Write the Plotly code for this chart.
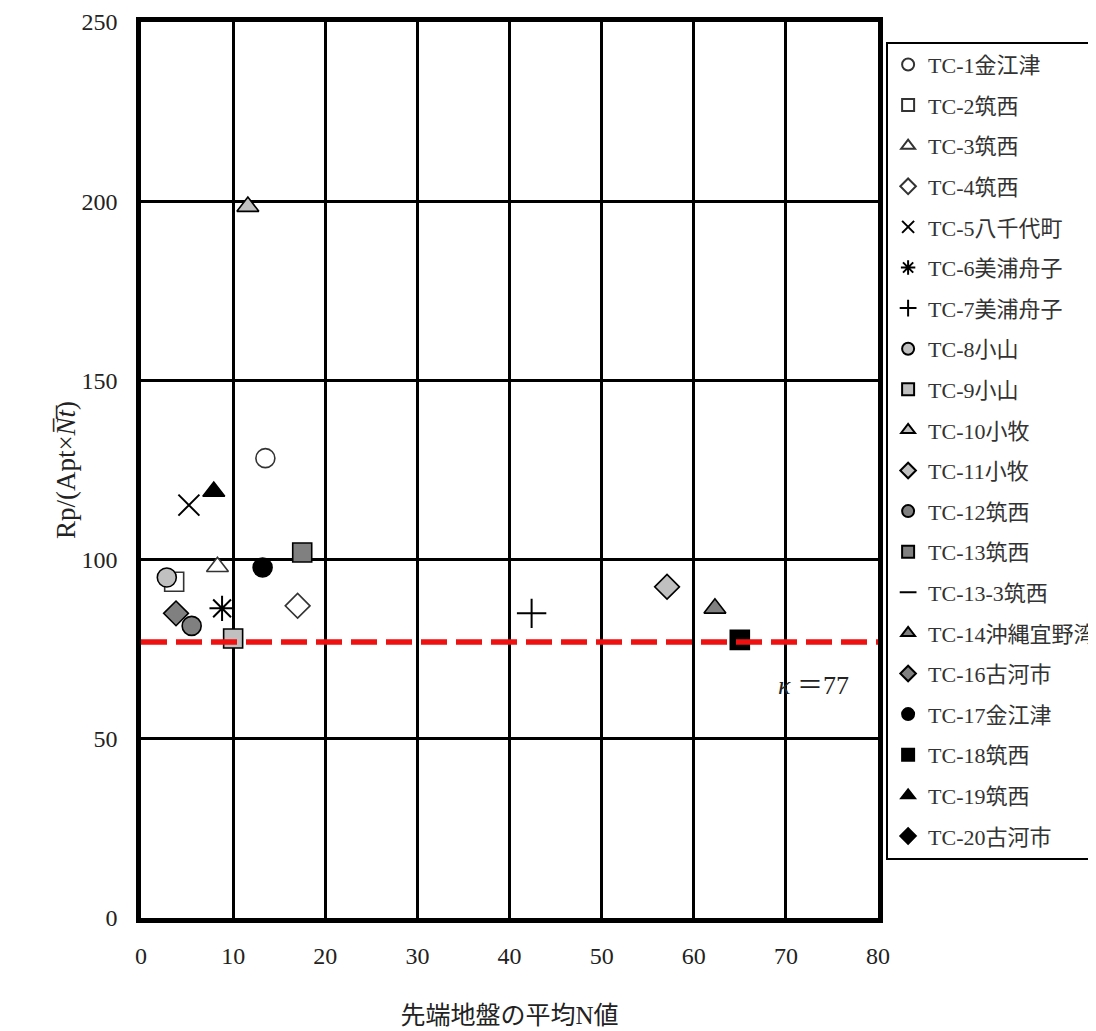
import plotly.graph_objects as go

names = ["TC-1金江津", "TC-2筑西", "TC-3筑西", "TC-4筑西", "TC-5八千代町", "TC-6美浦舟子",
         "TC-7美浦舟子", "TC-8小山", "TC-9小山", "TC-10小牧", "TC-11小牧", "TC-12筑西",
         "TC-13筑西", "TC-13-3筑西", "TC-14沖縄宜野湾", "TC-16古河市", "TC-17金江津",
         "TC-18筑西", "TC-19筑西", "TC-20古河市"]
n_values = [[13.5], [3.6], [8.3], [17.0], [5.2], [8.8], [42.4], [2.8], [10.0], [11.6],
            [57.1], [5.5], [17.5], [None], [62.3], [3.8], [13.2], [65.0], [7.9], [None]]
rp_values = [[128.3], [93.8], [98.0], [87.1], [115.2], [86.4], [85.0], [95.0], [78.0], [198.5],
             [92.4], [81.5], [102.0], [None], [86.4], [85.0], [97.8], [77.6], [119.0], [None]]
kappa = 77
x_ticks = [0, 10, 20, 30, 40, 50, 60, 70, 80]
y_ticks = [0, 50, 100, 150, 200, 250]

symbols = ["circle", "square", "triangle-up", "diamond", "x-thin", "asterisk", "cross-thin",
           "circle", "square", "triangle-up", "diamond", "circle", "square", "line-ew",
           "triangle-up", "diamond", "circle", "square", "triangle-up", "diamond"]
fills = ["white", "white", "white", "white", "black", "black", "black",
         "#c0c0c0", "#c0c0c0", "#c0c0c0", "#c0c0c0", "#808080", "#808080", "black",
         "#808080", "#808080", "black", "black", "black", "black"]

FONT = "Liberation Serif, DejaVu Serif, Noto Sans CJK JP"

fig = go.Figure()
for i, nm in enumerate(names):
    sym = symbols[i]
    thin = sym in ("x-thin", "asterisk", "cross-thin")
    if sym == "line-ew":
        size, lw = 13, 3
    elif thin:
        size, lw = 21, 2
    else:
        size, lw = 19, 1.6
    fig.add_trace(go.Scatter(
        x=n_values[i], y=rp_values[i], mode="markers", name=nm,
        legendgroup=nm,
        marker=dict(symbol=sym, size=size, color=fills[i],
                    line=dict(color="black" if fills[i] != "white" else "#333", width=lw)),
    ))

fig.add_hline(y=kappa, line=dict(color="#ee1111", width=5.5, dash="26px,9px"), layer="above")

fig.add_annotation(x=73, y=65, text="<i>κ</i> ＝77", showarrow=False, xanchor="center",
                   font=dict(size=26, family=FONT, color="#222"))

fig.update_xaxes(range=[0, 80], tickvals=x_ticks, showgrid=True, gridcolor="black", gridwidth=2.5,
                 showline=True, linecolor="black", linewidth=4.5, mirror=True, zeroline=False,
                 automargin=False,
                 ticks="", ticklabelstandoff=12, tickfont=dict(size=24, family=FONT, color="#222"),
                 title=dict(text="先端地盤の平均N値", font=dict(size=25, family=FONT, color="#222"),
                            standoff=40))
fig.update_yaxes(range=[0, 250], tickvals=y_ticks, showgrid=True, gridcolor="black", gridwidth=2.5,
                 showline=True, linecolor="black", linewidth=4.5, mirror=True, zeroline=False,
                 automargin=False,
                 ticks="", ticklabelstandoff=14, tickfont=dict(size=24, family=FONT, color="#222"),
                 title=dict(text="Rp/(Apt×<i>N\u0305t\u0305</i>)",
                            font=dict(size=27, family=FONT, color="#222"), standoff=0))

fig.update_layout(
    width=1088, height=1023,
    margin=dict(l=133, r=218, t=14, b=113, autoexpand=False),
    paper_bgcolor="white", plot_bgcolor="white",
    showlegend=True,
    legend=dict(x=1.011, y=0.978, xanchor="left", yanchor="top",
                bordercolor="black", borderwidth=2, bgcolor="white",
                font=dict(size=22, family=FONT, color="#333"),
                tracegroupgap=9, itemsizing="constant", itemwidth=30),
)

fig.write_html("out.html")
